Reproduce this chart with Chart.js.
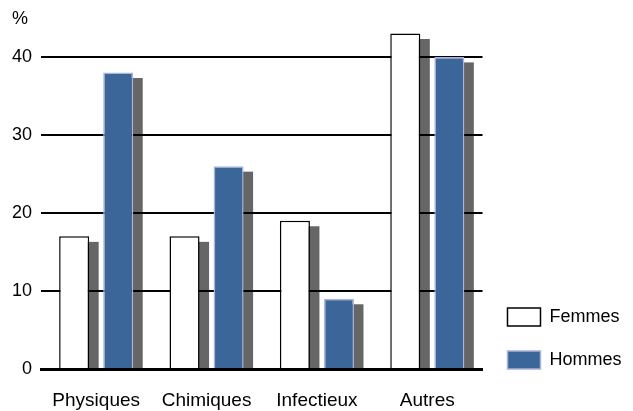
<!DOCTYPE html>
<html>
<head>
<meta charset="utf-8">
<script src="https://cdn.jsdelivr.net/npm/chart.js@4.4.1/dist/chart.umd.min.js"></script>
<style>
  html, body { margin: 0; padding: 0; background: #fff; }
  #wrap { width: 633px; height: 411px; position: relative; }
</style>
</head>
<body>
<div id="wrap"><canvas id="chart"></canvas></div>
<script>
var categories = ["Physiques", "Chimiques", "Infectieux", "Autres"];
var femmes = [17, 17, 19, 43];
var hommes = [38, 26, 9, 40];
var yTicks = [0, 10, 20, 30, 40];

(function () {
  var font = "'Liberation Sans', Arial, sans-serif";
  Chart.defaults.font.family = font;
  Chart.defaults.color = "#000";

  /** grey drop shadow behind each bar, drawn before grid so lines sit on top */
  var barShadow = {
    id: "barShadow",
    afterLayout: function (chart) {
      // legend sits a bit above the canvas bottom, like the reference
      if (chart.legend) chart.legend.bottom = chart.height - 17;
    },
    beforeDraw: function (chart) {
      var ctx = chart.ctx;
      var dx = 9.5, dy = 5.5;
      ctx.save();
      ctx.fillStyle = "#666666";
      chart.data.datasets.forEach(function (ds, i) {
        chart.getDatasetMeta(i).data.forEach(function (bar) {
          var p = bar.getProps(["x", "y", "base", "width"], true);
          ctx.fillRect(p.x - p.width / 2 + dx, p.y + dy, p.width, p.base - p.y - dy);
        });
      });
      ctx.restore();
    }
  };

  new Chart(document.getElementById("chart"), {
    type: "bar",
    data: {
      labels: categories,
      datasets: [
        {
          label: "Femmes",
          data: femmes,
          backgroundColor: "#ffffff",
          borderColor: "#000000",
          borderWidth: 1.5,
          categoryPercentage: 0.798,
          barPercentage: 0.682
        },
        {
          label: "Hommes",
          data: hommes,
          backgroundColor: "#3b6699",
          borderColor: "#a9b3dc",
          borderWidth: 1.5,
          categoryPercentage: 0.798,
          barPercentage: 0.682
        }
      ]
    },
    options: {
      responsive: true,
      maintainAspectRatio: false,
      animation: false,
      layout: { padding: { left: 12, right: 1.5, top: 4, bottom: 0 } },
      scales: {
        x: {
          z: 1,
          grid: { display: false, drawTicks: false },
          border: { display: true, color: "#000", width: 3 },
          ticks: { padding: 20, font: { size: 19 }, color: "#000" },
          afterFit: function (scale) {
            scale.height = 42;
          }
        },
        y: {
          min: 0,
          max: 43.5,
          afterBuildTicks: function (scale) {
            scale.ticks = yTicks.map(function (v) { return { value: v }; });
          },
          afterFit: function (scale) {
            scale.width = 29;
          },
          grid: { color: "#000", lineWidth: 2, drawTicks: false },
          border: { display: false },
          ticks: { padding: 9, font: { size: 18 }, color: "#000" }
        }
      },
      plugins: {
        title: {
          display: true,
          text: "%",
          align: "start",
          font: { size: 18, weight: "normal" },
          color: "#000",
          padding: { top: 4, bottom: 0 }
        },
        legend: {
          position: "right",
          align: "end",
          labels: {
            boxWidth: 33,
            boxHeight: 18,
            padding: 25,
            font: { size: 18 },
            color: "#000"
          }
        },
        tooltip: { enabled: false }
      }
    },
    plugins: [barShadow]
  });
})();
</script>
</body>
</html>
